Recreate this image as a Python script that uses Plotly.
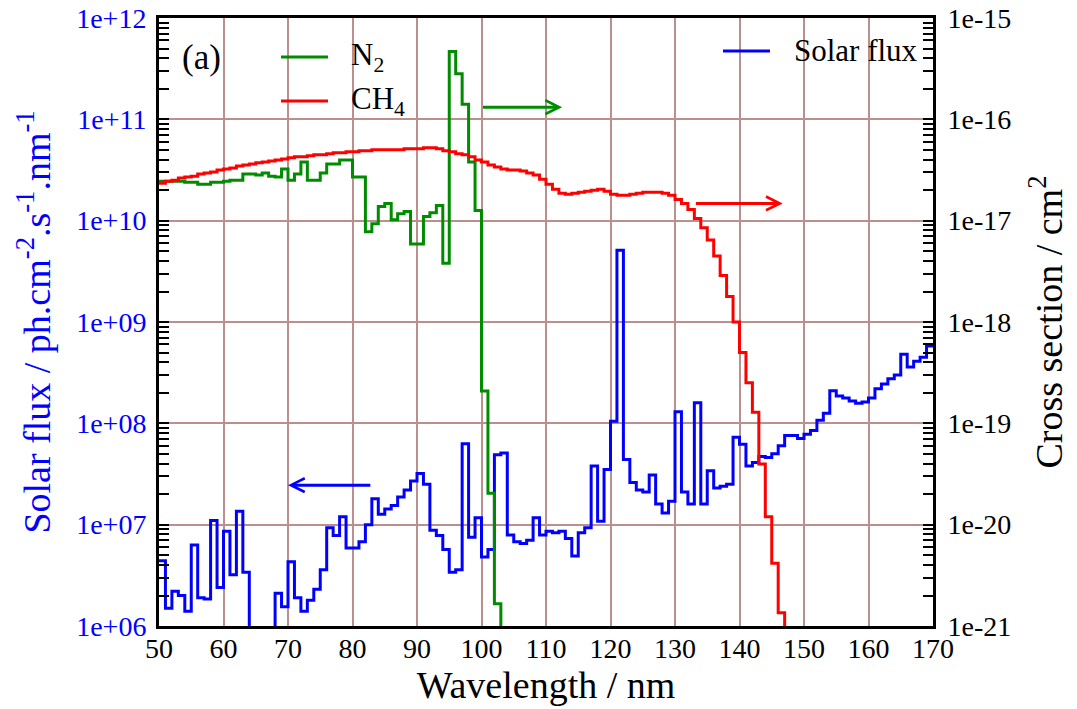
import plotly.graph_objects as go

# ---------------- data (1 nm bins, value given for bin starting at wl) ----------------
flux_wl = list(range(50, 170))
solar_flux = [
    4.4e6, 1.5e6, 2.2e6, 2.0e6, 1.4e6, 6.3e6, 1.9e6, 1.85e6, 1.1e7, 2.4e6,      # 50-59
    8.6e6, 3.2e6, 1.36e7, 3.4e6, 3e5, 3e5, 3e5, 3e5, 2.1e6, 1.55e6,             # 60-69
    4.3e6, 1.9e6, 1.4e6, 1.8e6, 2.3e6, 3.6e6, 9.3e6, 7.8e6, 1.2e7, 5.9e6,       # 70-79
    5.9e6, 6.8e6, 1.0e7, 1.8e7, 1.27e7, 1.43e7, 1.55e7, 1.87e7, 2.2e7, 2.7e7,   # 80-89
    3.2e7, 2.5e7, 8.8e6, 7.8e6, 5.7e6, 3.4e6, 3.6e6, 6.3e7, 7.5e6, 1.17e7,      # 90-99
    4.8e6, 5.7e6, 4.9e7, 5.1e7, 7.9e6, 6.8e6, 6.5e6, 7.0e6, 1.17e7, 7.9e6,      # 100-109
    8.6e6, 8.3e6, 8.6e6, 7.3e6, 4.9e6, 8.3e6, 9.3e6, 3.8e7, 1.08e7, 3.5e7,      # 110-119
    1.05e8, 5.1e9, 4.4e7, 2.6e7, 2.2e7, 2.1e7, 3.1e7, 1.6e7, 1.3e7, 1.7e7,      # 120-129
    1.3e8, 2.1e7, 1.6e7, 1.6e8, 1.6e7, 3.4e7, 2.3e7, 2.4e7, 2.5e7, 7.3e7,       # 130-139
    6.2e7, 3.8e7, 4.1e7, 4.7e7, 4.6e7, 5.0e7, 6.0e7, 7.6e7, 7.6e7, 7.1e7,       # 140-149
    7.8e7, 8.5e7, 1.07e8, 1.26e8, 2.1e8, 1.86e8, 1.78e8, 1.66e8, 1.58e8, 1.62e8,  # 150-159
    1.78e8, 2.2e8, 2.45e8, 2.75e8, 3.0e8, 4.8e8, 3.6e8, 4.1e8, 4.5e8, 5.8e8,    # 160-169
]

n2_wl = list(range(50, 104))
n2_xs = [
    2.45e-17, 2.45e-17, 2.45e-17, 2.45e-17, 2.40e-17, 2.40e-17, 2.29e-17, 2.29e-17, 2.40e-17, 2.40e-17,  # 50-59
    2.45e-17, 2.51e-17, 2.51e-17, 2.88e-17, 2.88e-17, 2.82e-17, 2.95e-17, 2.75e-17, 2.69e-17, 3.24e-17,  # 60-69
    2.51e-17, 2.88e-17, 3.80e-17, 2.51e-17, 2.51e-17, 2.95e-17, 3.63e-17, 3.63e-17, 3.98e-17, 3.98e-17,  # 70-79
    2.69e-17, 2.69e-17, 7.76e-18, 9.33e-18, 1.38e-17, 1.48e-17, 1.02e-17, 1.17e-17, 1.23e-17, 5.89e-18,  # 80-89
    5.89e-18, 1.10e-17, 1.20e-17, 1.41e-17, 3.80e-18, 4.68e-16, 2.82e-16, 1.41e-16, 3.80e-17, 1.26e-17,  # 90-99
    2.09e-19, 2.04e-20, 1.66e-21, 2e-22,                                                                  # 100-103
]

ch4_wl = list(range(50, 148))
ch4_xs = [
    2.34e-17, 2.45e-17, 2.51e-17, 2.63e-17, 2.69e-17, 2.75e-17, 2.88e-17, 2.95e-17, 3.02e-17, 3.16e-17,  # 50-59
    3.24e-17, 3.31e-17, 3.47e-17, 3.55e-17, 3.63e-17, 3.72e-17, 3.80e-17, 3.89e-17, 3.98e-17, 4.07e-17,  # 60-69
    4.17e-17, 4.27e-17, 4.27e-17, 4.37e-17, 4.47e-17, 4.47e-17, 4.57e-17, 4.68e-17, 4.68e-17, 4.79e-17,  # 70-79
    4.79e-17, 4.90e-17, 4.90e-17, 5.01e-17, 5.01e-17, 5.01e-17, 5.01e-17, 5.01e-17, 5.13e-17, 5.13e-17,  # 80-89
    5.13e-17, 5.25e-17, 5.25e-17, 5.13e-17, 4.90e-17, 4.79e-17, 4.57e-17, 4.47e-17, 4.27e-17, 3.98e-17,  # 90-99
    3.80e-17, 3.55e-17, 3.39e-17, 3.24e-17, 3.16e-17, 3.16e-17, 3.09e-17, 2.95e-17, 2.82e-17, 2.57e-17,  # 100-109
    2.29e-17, 2.04e-17, 1.86e-17, 1.82e-17, 1.86e-17, 1.91e-17, 1.95e-17, 2.00e-17, 2.04e-17, 1.95e-17,  # 110-119
    1.82e-17, 1.78e-17, 1.78e-17, 1.82e-17, 1.86e-17, 1.91e-17, 1.91e-17, 1.91e-17, 1.86e-17, 1.78e-17,  # 120-129
    1.62e-17, 1.48e-17, 1.29e-17, 1.05e-17, 8.51e-18, 6.46e-18, 4.47e-18, 2.88e-18, 1.78e-18, 1.00e-18,  # 130-139
    5.01e-19, 2.51e-19, 1.29e-19, 3.98e-20, 1.20e-20, 4.17e-21, 1.35e-21, 2e-22,                         # 140-147
]

x_ticks = list(range(50, 171, 10))
flux_tickvals = [10.0 ** e for e in range(6, 13)]
flux_ticktext = ["1e+06", "1e+07", "1e+08", "1e+09", "1e+10", "1e+11", "1e+12"]
xs_tickvals = [10.0 ** e for e in range(-21, -14)]
xs_ticktext = ["1e-21", "1e-20", "1e-19", "1e-18", "1e-17", "1e-16", "1e-15"]

# ---------------- helpers ----------------
def steps(wl, vals, width=1):
    # histogram-style: append the closing edge of the last bin
    return wl + [wl[-1] + width], vals + [vals[-1]]

FONT = "Liberation Serif"
GRID = "#bc8f8f"
BLUE = "#0000ff"
GREEN = "#008c00"
RED = "#ff0000"

fig = go.Figure()

bx, by = steps(flux_wl, solar_flux)
fig.add_trace(go.Scatter(x=bx, y=by, mode="lines", line=dict(color=BLUE, width=3, shape="hv"),
                         name="Solar flux", yaxis="y"))
gx, gy = steps(n2_wl, n2_xs)
fig.add_trace(go.Scatter(x=gx, y=gy, mode="lines", line=dict(color=GREEN, width=3, shape="hv"),
                         name="N<sub>2</sub>", yaxis="y2"))
rx, ry = steps(ch4_wl, ch4_xs)
fig.add_trace(go.Scatter(x=rx, y=ry, mode="lines", line=dict(color=RED, width=3, shape="hv"),
                         name="CH<sub>4</sub>", yaxis="y2"))

minor_flux = [m * 10.0 ** e for e in range(6, 12) for m in range(2, 10)]
minor_xs = [m * 10.0 ** e for e in range(-21, -15) for m in range(2, 10)]

fig.update_layout(
    width=1077, height=709,
    margin=dict(l=159, r=144, t=18, b=83),
    plot_bgcolor="white", paper_bgcolor="white",
    showlegend=False,
    font=dict(family=FONT, size=28, color="black"),
    xaxis=dict(
        range=[50, 170], tickmode="array", tickvals=x_ticks, automargin=False,
        showgrid=True, gridcolor=GRID, gridwidth=1.5, zeroline=False,
        showline=True, linewidth=3, linecolor="black", mirror=True,
        ticks="", tickfont=dict(family=FONT, size=28, color="black"), ticklabelstandoff=-5,
        title=dict(text="Wavelength / nm", font=dict(family=FONT, size=38, color="black"), standoff=0),
    ),
    yaxis=dict(
        type="log", range=[6, 12], tickmode="array", tickvals=flux_tickvals, ticktext=flux_ticktext,
        automargin=False,
        showgrid=True, gridcolor=GRID, gridwidth=1.5, zeroline=False,
        showline=True, linewidth=3, linecolor="black",
        ticks="inside", ticklen=10, tickwidth=1.5, tickcolor="black",
        minor=dict(tickmode="array", tickvals=minor_flux, ticks="inside", ticklen=10,
                   tickwidth=1.5, tickcolor="black", showgrid=False),
        tickfont=dict(family=FONT, size=28, color=BLUE), ticklabelstandoff=4,
        title=dict(text="Solar flux / ph.cm<sup>-2</sup>.s<sup>-1</sup>.nm<sup>-1</sup>",
                   font=dict(family=FONT, size=38, color=BLUE), standoff=14),
    ),
    yaxis2=dict(
        type="log", range=[-21, -15], overlaying="y", side="right",
        tickmode="array", tickvals=xs_tickvals, ticktext=xs_ticktext, automargin=False,
        showgrid=False, zeroline=False,
        showline=True, linewidth=3, linecolor="black",
        ticks="inside", ticklen=10, tickwidth=1.5, tickcolor="black",
        minor=dict(tickmode="array", tickvals=minor_xs, ticks="inside", ticklen=10,
                   tickwidth=1.5, tickcolor="black", showgrid=False),
        tickfont=dict(family=FONT, size=28, color="black"), ticklabelstandoff=6,
        title=dict(text="Cross section / cm<sup>2</sup>", font=dict(family=FONT, size=38, color="black"),
                   standoff=26),
    ),
)

# ---------------- legend (drawn manually to match placement) ----------------
def px_x(p):
    return (p - 159) / 774.0

def px_y(p):
    return (626 - p) / 608.0

legend_items = [
    (281, 328, 57, GREEN, "N<sub>2</sub>", 349),
    (281, 328, 101, RED, "CH<sub>4</sub>", 349),
    (723, 770, 51, BLUE, "Solar flux", 792),
]
for x0, x1, yy, col, label, tx in legend_items:
    fig.add_shape(type="line", xref="paper", yref="paper",
                  x0=px_x(x0), x1=px_x(x1), y0=px_y(yy), y1=px_y(yy),
                  line=dict(color=col, width=3))
    fig.add_annotation(xref="paper", yref="paper", x=px_x(tx), y=px_y(yy),
                       xanchor="left", yanchor="middle", showarrow=False,
                       text=label, font=dict(size=31, family=FONT, color="black"))

fig.add_annotation(xref="paper", yref="paper", x=px_x(180), y=px_y(58),
                   xanchor="left", yanchor="middle", showarrow=False,
                   text="(a)", font=dict(size=35, family=FONT, color="black"))

# ---------------- arrows pointing to the relevant axis ----------------
arrows = [
    # (tip_x, tail_x, log10 y, axis, colour)
    (70.0, 83.0, 7.39, "y", BLUE),
    (112.5, 100.0, -15.88, "y2", GREEN),
    (146.7, 133.0, -16.83, "y2", RED),
]
for tip, tail, ly, ax_name, col in arrows:
    fig.add_annotation(x=tip, y=ly, xref="x", yref=ax_name,
                       ax=tail, ay=ly, axref="x", ayref=ax_name,
                       showarrow=True, arrowhead=5, arrowsize=0.9, arrowwidth=3,
                       arrowcolor=col, text="", standoff=0)

fig.write_html("out.html")
